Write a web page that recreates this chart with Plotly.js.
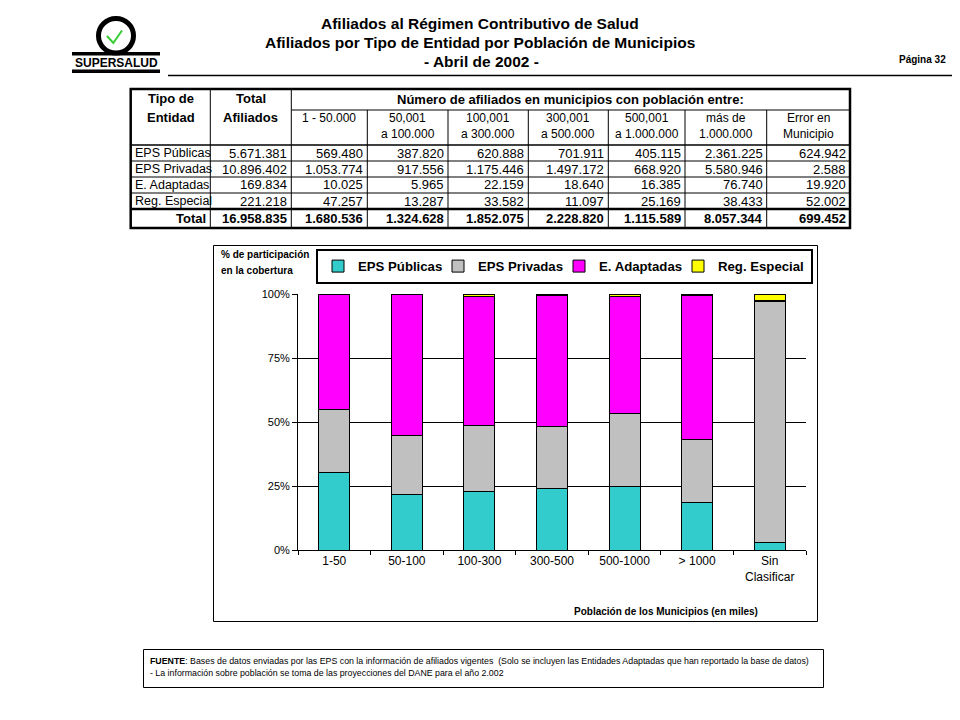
<!DOCTYPE html>
<html><head><meta charset="utf-8">
<script src="https://cdn.plot.ly/plotly-3.0.1.min.js"></script>
<style>html,body{margin:0;padding:0;background:#fff}#chart{width:960px;height:720px}</style>
</head><body><div id="chart"></div>
<script>
// ---- chart data (percent of coverage) ----
const categories = ['1-50', '50-100', '100-300', '300-500', '500-1000', '> 1000', 'Sin<br>Clasificar'];
const pctPublicas = [30.4, 21.8, 23.0, 24.2, 24.9, 18.7, 3.0];
const pctPrivadas = [24.3, 23.1, 25.8, 24.2, 28.3, 24.3, 94.0];
const pctAdaptadas = [45.1, 54.8, 50.2, 51.0, 45.8, 56.5, 0.3];
const pctEspecial = [0.2, 0.3, 1.0, 0.6, 1.0, 0.5, 2.7];
const seriesNames = ['EPS Públicas', 'EPS Privadas', 'E. Adaptadas', 'Reg. Especial'];
const yTicks = [0, 25, 50, 75, 100];

// ---- table data ----
const tableHeaders = ['Tipo de<br>Entidad', 'Total<br>Afiliados'];
const spanHeader = 'Número de afiliados en municipios con población entre:';
const rangoHeaders = ['1 - 50.000', '50,001<br>a 100.000', '100,001<br>a 300.000', '300,001<br>a 500.000',
  '500,001<br>a 1.000.000', 'más de<br>1.000.000', 'Error en<br>Municipio'];
const tipoEntidad = ['EPS Públicas', 'EPS Privadas', 'E. Adaptadas', 'Reg. Especial', 'Total'];
const totalAfiliados = [5671381, 10896402, 169834, 221218, 16958835];
const rango1a50 = [569480, 1053774, 10025, 47257, 1680536];
const rango50a100 = [387820, 917556, 5965, 13287, 1324628];
const rango100a300 = [620888, 1175446, 22159, 33582, 1852075];
const rango300a500 = [701911, 1497172, 18640, 11097, 2228820];
const rango500a1000 = [405115, 668920, 16385, 25169, 1115589];
const rangoMas1000 = [2361225, 5580946, 76740, 38433, 8057344];
const rangoError = [624942, 2588, 19920, 52002, 699452];

const W = 960, H = 720;
const px = x => x / W;
const py = y => 1 - y / H;
const FONT = 'Arial, "Liberation Sans", sans-serif';
const fmt = n => String(n).replace(/\B(?=(\d{3})+(?!\d))/g, '.');

const colors = ['#33CCCC', '#C0C0C0', '#FF00FF', '#FFFF00'];
const pcts = [pctPublicas, pctPrivadas, pctAdaptadas, pctEspecial];

// legend entry widths: measured text width, with tighter spacing between entries
const LEG_SIZE = 13.2;
const ctx = document.createElement('canvas').getContext('2d');
ctx.font = 'bold ' + LEG_SIZE + 'px Arial, "Liberation Sans", sans-serif';
const legW = seriesNames.map((n, i) => Math.ceil(ctx.measureText(n).width) + (i === seriesNames.length - 1 ? 2 : -10));

const bars = pcts.map((vals, i) => ({
  type: 'bar', x: categories, y: vals, name: seriesNames[i],
  legendwidth: legW[i],
  marker: {color: colors[i], line: {color: '#000', width: 1}},
  hoverinfo: 'skip'
}));

// ---- table geometry (layout, pixels) ----
const colX = [130.7, 210.3, 291.3, 367.3, 448, 528.3, 608.3, 685, 766.7, 850];
const tTop = 89, tMid = 110, tHead = 145, rowH = 16, tBottom = 228;
const rowTop = i => tHead + i * rowH;          // data rows 0..3
const totalTop = tHead + 4 * rowH;             // 209

const ann = (text, x, y, size, xanchor, extra) => Object.assign({
  text, xref: 'paper', yref: 'paper', x: px(x), y: py(y), xanchor: xanchor || 'center', yanchor: 'middle',
  showarrow: false, font: {family: FONT, size: size, color: '#000'}
}, extra || {});
const ln = (x0, y0, x1, y1, w) => ({type: 'line', xref: 'paper', yref: 'paper',
  x0: px(x0), x1: px(x1), y0: py(y0), y1: py(y1), line: {color: '#000', width: w || 1}});

const annotations = [];
const shapes = [];

// title + page
annotations.push(ann('<b>Afiliados al Régimen Contributivo de Salud</b>', 480, 23, 15.5));
annotations.push(ann('<b>Afiliados por Tipo de Entidad por Población de Municipios</b>', 480, 42, 15.5));
annotations.push(ann('<b>- Abril de 2002 -</b>', 481, 61, 15.5));
annotations.push(ann('<b>Página 32</b>', 922, 59, 10));
annotations.push(ann('<b>SUPERSALUD</b>', 116, 63, 12));

// table header
tableHeaders.forEach((h, i) => {
  const lines = h.split('<br>');
  annotations.push(ann('<b>' + lines[0] + '</b>', (colX[i] + colX[i + 1]) / 2, 99, 13));
  annotations.push(ann('<b>' + lines[1] + '</b>', (colX[i] + colX[i + 1]) / 2, 118, 13));
});
annotations.push(ann('<b>' + spanHeader + '</b>', (colX[2] + colX[9]) / 2, 99.5, 13));
rangoHeaders.forEach((h, i) => {
  const lines = h.split('<br>');
  const cx = (colX[i + 2] + colX[i + 3]) / 2;
  lines.forEach((t, k) => annotations.push(ann(t, cx, 118 + k * 16, 12)));
});
// table body
const numCols = [totalAfiliados, rango1a50, rango50a100, rango100a300, rango300a500, rango500a1000, rangoMas1000, rangoError];
tipoEntidad.forEach((name, r) => {
  const isTotal = r === tipoEntidad.length - 1;
  const yc = isTotal ? (totalTop + tBottom) / 2 : rowTop(r) + rowH / 2;
  if (isTotal) annotations.push(ann('<b>' + name + '</b>', colX[1] - 2, yc, 13, 'right'));
  else annotations.push(ann(name, colX[0] + 2, yc, 12.5, 'left'));
  numCols.forEach((col, c) => {
    const t = fmt(col[r]);
    annotations.push(ann(isTotal ? '<b>' + t + '</b>' : t, colX[c + 2] - 2, yc, 13, 'right'));
  });
});

// table lines
shapes.push({type: 'rect', xref: 'paper', yref: 'paper', x0: px(colX[0]), x1: px(colX[9]), y0: py(tTop), y1: py(tBottom), line: {color: '#000', width: 2.5}});
shapes.push(ln(colX[1], tTop, colX[1], tBottom));
shapes.push(ln(colX[2], tTop, colX[2], tBottom));
for (let c = 3; c < 9; c++) shapes.push(ln(colX[c], tMid, colX[c], tBottom));
shapes.push(ln(colX[2], tMid, colX[9], tMid));
shapes.push(ln(colX[0], tHead, colX[9], tHead, 1.5));
for (let r = 1; r < 4; r++) shapes.push(ln(colX[0], rowTop(r), colX[9], rowTop(r)));
shapes.push(ln(colX[0], totalTop, colX[9], totalTop, 2.5));

// page decorations
shapes.push(ln(168, 75.5, 952, 75.5, 1.5));
shapes.push({type: 'rect', xref: 'paper', yref: 'paper', x0: px(213.5), x1: px(817.5), y0: py(245.5), y1: py(621.5), line: {color: '#000', width: 1}});
shapes.push({type: 'rect', xref: 'paper', yref: 'paper', x0: px(143.5), x1: px(823.5), y0: py(649.5), y1: py(687.5), line: {color: '#000', width: 1}});
// logo
shapes.push({type: 'circle', xref: 'paper', yref: 'paper', x0: px(98.5), x1: px(133.5), y0: py(18.5), y1: py(53), line: {color: '#000', width: 5}});
shapes.push({type: 'rect', xref: 'paper', yref: 'paper', x0: px(72), x1: px(160), y0: py(52), y1: py(55.5), fillcolor: '#000', line: {width: 0}});
shapes.push({type: 'rect', xref: 'paper', yref: 'paper', x0: px(72), x1: px(160), y0: py(69.5), y1: py(73), fillcolor: '#000', line: {width: 0}});
shapes.push({type: 'path', xref: 'paper', yref: 'paper',
  path: `M ${px(107)} ${py(36)} L ${px(113.3)} ${py(43)} L ${px(122)} ${py(30.5)}`,
  line: {color: '#33CC33', width: 2}});

// chart texts
annotations.push(ann('<b>% de participación</b>', 219, 254, 10, 'left'));
annotations.push(ann('<b>en la cobertura</b>', 219, 270, 10, 'left'));
annotations.push(ann('<b>Población de los Municipios (en miles)</b>', 666, 611, 10));
// footnote
annotations.push(ann('<b>FUENTE</b>: Bases de datos enviadas por las EPS con la información de afiliados vigentes  (Solo se incluyen las Entidades Adaptadas que han reportado la base de datos)',
  148, 661, 8.8, 'left'));
annotations.push(ann('- La información sobre población se toma de las proyecciones del DANE para el año 2.002',
  148, 673, 8.8, 'left'));

const layout = {
  width: W, height: H,
  margin: {l: 0, r: 0, t: 0, b: 0},
  paper_bgcolor: '#fff', plot_bgcolor: '#fff',
  font: {family: FONT, color: '#000'},
  barmode: 'stack', bargap: 0.573,
  xaxis: {
    domain: [px(298), px(806)], type: 'category',
    showline: true, linecolor: '#000', linewidth: 1,
    ticks: 'outside', tickson: 'boundaries', ticklen: 4, tickcolor: '#000',
    tickfont: {family: FONT, size: 12, color: '#000'},
    showgrid: false, zeroline: false, fixedrange: true
  },
  yaxis: {
    domain: [py(550), py(294)], range: [0, 100],
    tickvals: yTicks, ticktext: yTicks.map(v => v + '%'),
    showline: true, linecolor: '#000', linewidth: 1,
    ticks: 'outside', ticklen: 5, tickcolor: '#000',
    showgrid: true, gridcolor: '#000', gridwidth: 1, zeroline: false,
    tickfont: {family: FONT, size: 11, color: '#000'}, fixedrange: true
  },
  showlegend: true,
  legend: {
    orientation: 'h', x: px(316), y: py(249), xanchor: 'left', yanchor: 'top',
    traceorder: 'normal', bgcolor: '#fff', bordercolor: '#000', borderwidth: 2,
    font: {family: FONT, size: LEG_SIZE, color: '#000', weight: 'bold'}
  },
  shapes, annotations
};

Plotly.newPlot('chart', bars, layout, {staticPlot: true, displayModeBar: false});
</script>
</body></html>
